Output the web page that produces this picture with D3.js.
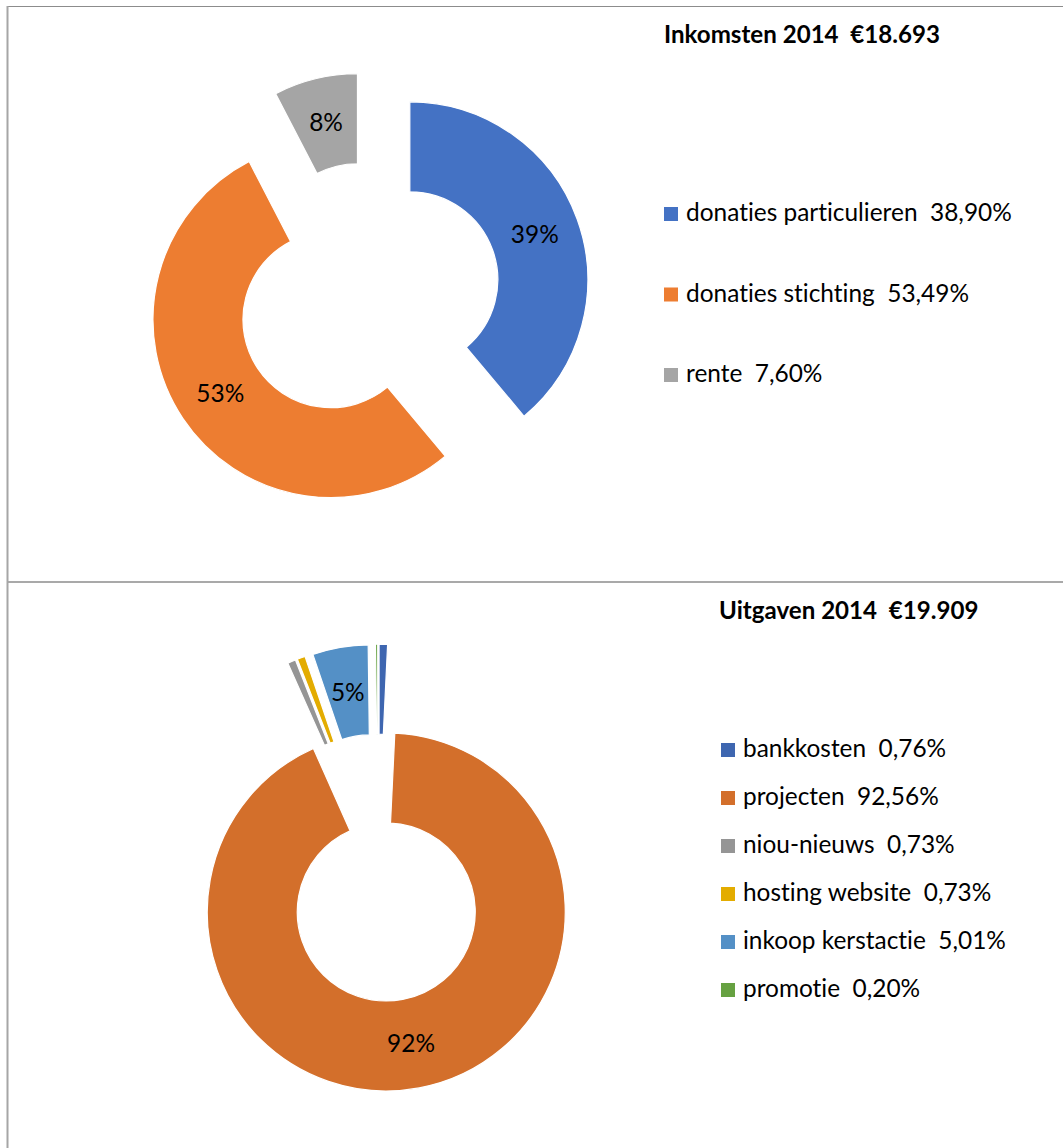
<!DOCTYPE html>
<html>
<head>
<meta charset="utf-8">
<script src="https://cdn.jsdelivr.net/npm/d3@7"></script>
<style>
  html, body { margin: 0; padding: 0; background: #fff; }
  svg text { white-space: pre; font-variant-ligatures: none; font-feature-settings: "liga" 0, "clig" 0; }
</style>
</head>
<body>
<svg id="chart" width="1063" height="1148"></svg>
<script>
// ---- data ----
const inkomstenTitle = "Inkomsten 2014  €18.693";
const inkomstenLabels = ["donaties particulieren", "donaties stichting", "rente"];
const inkomstenValues = [38.90, 53.49, 7.60];
const inkomstenPctLabels = ["39%", "53%", "8%"];
const inkomstenColors = ["#4472C4", "#ED7D31", "#A5A5A5"];

const uitgavenTitle = "Uitgaven 2014  €19.909";
const uitgavenLabels = ["bankkosten", "projecten", "niou-nieuws", "hosting website", "inkoop kerstactie", "promotie"];
const uitgavenValues = [0.76, 92.56, 0.73, 0.73, 5.01, 0.20];
const uitgavenPctLabels = ["", "92%", "", "", "5%", ""];
const uitgavenColors = ["#3E66B0", "#D36F2B", "#959595", "#E3AC00", "#5490C6", "#66A141"];

const FONT = "Lato, 'Open Sans', sans-serif";
const svg = d3.select("#chart");

// borders
svg.append("line").attr("x1", 8).attr("x2", 1063).attr("y1", 6.5).attr("y2", 6.5)
  .attr("stroke", "#8c8c8c").attr("stroke-width", 1.2);
svg.append("line").attr("x1", 8).attr("x2", 1063).attr("y1", 582).attr("y2", 582)
  .attr("stroke", "#8c8c8c").attr("stroke-width", 1.5);
svg.append("line").attr("x1", 7.5).attr("x2", 7.5).attr("y1", 6).attr("y2", 1148)
  .attr("stroke", "#a6a6a6").attr("stroke-width", 2);

// font fitting helper
function fitSize(text, weight, target) {
  const t = svg.append("text").attr("font-family", FONT).attr("font-size", 20)
    .attr("font-weight", weight).text(text);
  const w = t.node().getComputedTextLength();
  t.remove();
  return 20 * target / w;
}
const fmt = v => v.toFixed(2).replace(".", ",") + "%";

const titleSize = fitSize(inkomstenTitle, "bold", 276);
const legendSize = fitSize("donaties particulieren  " + fmt(38.90), "normal", 326);
const legendSize2 = fitSize("inkoop kerstactie  " + fmt(5.01), "normal", 263);
const labelSize = legendSize;

function donut(cfg) {
  const g = svg.append("g").attr("transform", `translate(${cfg.cx},${cfg.cy})`);
  const pie = d3.pie().sort(null).value(d => d.v).startAngle(0).endAngle(2 * Math.PI);
  const data = cfg.values.map((v, i) => ({ v, i, lbl: cfg.pct[i] }));
  const arcs = pie(data);
  const arc = d3.arc().innerRadius(cfg.r).outerRadius(cfg.R);
  const off = a => {
    const m = (a.startAngle + a.endAngle) / 2;
    return [cfg.d * Math.sin(m), -cfg.d * Math.cos(m)];
  };
  g.selectAll("path.slice").data(arcs).enter().append("path")
    .attr("class", "slice")
    .attr("d", arc)
    .attr("transform", a => `translate(${off(a)})`)
    .attr("fill", a => cfg.colors[a.index])
    .attr("stroke", "#fff").attr("stroke-width", 1.2);
  const mid = (cfg.R + cfg.r) / 2;
  g.selectAll("text.lbl").data(arcs.filter(a => a.data.lbl)).enter().append("text")
    .attr("class", "lbl")
    .attr("x", a => off(a)[0] + mid * Math.sin((a.startAngle + a.endAngle) / 2))
    .attr("y", a => off(a)[1] - mid * Math.cos((a.startAngle + a.endAngle) / 2))
    .attr("dy", "0.36em")
    .attr("text-anchor", "middle")
    .attr("font-family", FONT).attr("font-size", labelSize).attr("fill", "#000")
    .text(a => a.data.lbl);

  // title
  svg.append("text").attr("x", cfg.titleX).attr("y", cfg.titleY)
    .attr("font-family", FONT).attr("font-weight", "bold").attr("font-size", titleSize)
    .attr("fill", "#000").text(cfg.title);

  // legend
  const lg = svg.append("g");
  cfg.labels.forEach((lab, i) => {
    const y = cfg.legY + i * cfg.legStep;
    lg.append("rect").attr("x", cfg.legX).attr("y", y - 14).attr("width", 14).attr("height", 14)
      .attr("fill", cfg.colors[i]);
    lg.append("text").attr("x", cfg.legX + 22).attr("y", y)
      .attr("font-family", FONT).attr("font-size", cfg.legSize).attr("fill", "#000")
      .text(lab + "  " + fmt(cfg.values[i]));
  });
}

donut({
  cx: 368, cy: 295, R: 178, r: 88, d: 44.5,
  values: inkomstenValues, labels: inkomstenLabels, colors: inkomstenColors, pct: inkomstenPctLabels,
  title: inkomstenTitle, titleX: 664, titleY: 43,
  legX: 664, legY: 221, legStep: 80.5, legSize: legendSize
});

donut({
  cx: 378, cy: 868, R: 179, r: 89, d: 44.75,
  values: uitgavenValues, labels: uitgavenLabels, colors: uitgavenColors, pct: uitgavenPctLabels,
  title: uitgavenTitle, titleX: 719, titleY: 619,
  legX: 721, legY: 757, legStep: 48, legSize: legendSize2
});
</script>
</body>
</html>
